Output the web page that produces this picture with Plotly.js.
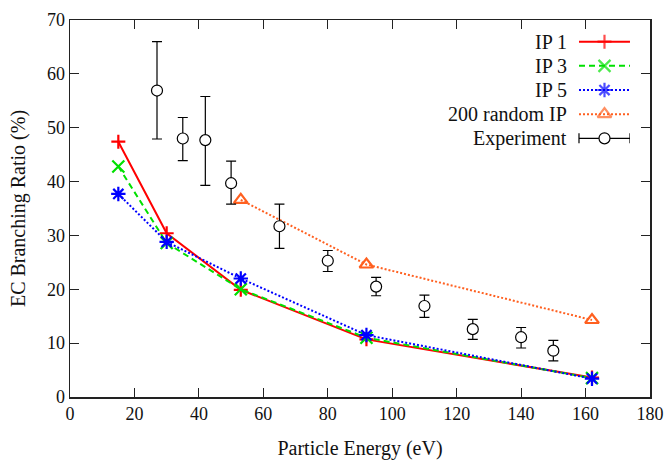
<!DOCTYPE html>
<html>
<head>
<meta charset="utf-8">
<script src="https://cdn.plot.ly/plotly-3.0.1.min.js"></script>
<style>
  html, body { margin: 0; padding: 0; background: #fff; }
  #chart { width: 666px; height: 463px; }
</style>
</head>
<body>
<div id="chart"></div>
<script>
// EC branching ratio versus particle energy
const ipEnergy = [15, 30, 53, 92, 162];
const ip1 = [47.4, 30.4, 19.9, 10.7, 3.6];
const ip3 = [42.8, 28.6, 20.0, 11.0, 3.5];
const ip5 = [37.7, 28.8, 22.0, 11.5, 3.4];

const randEnergy = [53, 92, 162];
const rand200 = [36.6, 24.6, 14.3];

const expEnergy = [27, 35, 42, 50, 65, 80, 95, 110, 125, 140, 150];
const expRatio = [56.9, 48.0, 47.7, 39.7, 31.7, 25.3, 20.5, 16.9, 12.6, 11.1, 8.6];
const expUpper = [66.0, 51.9, 55.8, 43.8, 35.8, 27.2, 22.2, 18.9, 14.4, 12.9, 10.5];
const expLower = [47.9, 43.9, 39.3, 35.8, 27.6, 23.3, 18.8, 14.8, 10.7, 9.1, 6.7];

const seriesNames = ['IP 1', 'IP 3', 'IP 5', '200 random IP', 'Experiment'];

const xTicks = [0, 20, 40, 60, 80, 100, 120, 140, 160, 180];
const yTicks = [0, 10, 20, 30, 40, 50, 60, 70];

const FONT = "'Liberation Serif', 'Times New Roman', serif";

const styles = [
  { color: '#ff0000', dash: 'solid', symbol: 'cross-thin-open', size: 10 },
  { color: '#00e000', dash: '6px,4px', symbol: 'x-thin-open', size: 12 },
  { color: '#0000ff', dash: '2px,2px', symbol: 'asterisk-open', size: 12 },
  { color: '#ff6020', dash: '2px,2px', symbol: 'triangle-up-open', size: 12 }
];

function seriesTrace(x, y, st, xa, ya) {
  return {
    x: x, y: y, xaxis: xa, yaxis: ya,
    type: 'scatter', mode: 'lines+markers', showlegend: false, cliponaxis: false,
    line: { color: st.color, width: 2, dash: st.dash },
    marker: { symbol: st.symbol, size: st.size, color: st.color,
              line: { color: st.color, width: 2.2 } },
    hoverinfo: 'skip'
  };
}

const data = [
  seriesTrace(ipEnergy, ip1, styles[0], 'x', 'y'),
  seriesTrace(ipEnergy, ip3, styles[1], 'x', 'y'),
  seriesTrace(ipEnergy, ip5, styles[2], 'x', 'y'),
  seriesTrace(randEnergy, rand200, styles[3], 'x', 'y'),
  {
    x: expEnergy, y: expRatio, type: 'scatter', mode: 'markers', showlegend: false,
    marker: { symbol: 'circle', size: 11, color: 'rgba(255,255,255,1)',
              line: { color: '#000', width: 1.2 } },
    error_y: {
      type: 'data', symmetric: false,
      array: expUpper.map((u, i) => u - expRatio[i]),
      arrayminus: expLower.map((l, i) => expRatio[i] - l),
      color: '#000', thickness: 1.2, width: 5
    },
    hoverinfo: 'skip'
  }
];

// Key: samples from 0 to 1 on a helper axis pair, labels to their left
const keyRows = seriesNames.map((_, i) => i);
for (let i = 0; i < 4; i++) {
  const t = seriesTrace([0, 0.5, 1], [i, i, i], styles[i], 'x2', 'y2');
  t.marker.size = [0, styles[i].size, 0];
  data.push(t);
}
data.push({
  x: [0.5], y: [4], xaxis: 'x2', yaxis: 'y2',
  type: 'scatter', mode: 'markers', showlegend: false, cliponaxis: false,
  marker: { symbol: 'circle', size: 11, color: 'rgba(255,255,255,1)',
            line: { color: '#000', width: 1.2 } },
  error_x: { type: 'constant', value: 0.5, color: '#000', thickness: 1.2, width: 5 },
  hoverinfo: 'skip'
});

const annotations = seriesNames.map((name, i) => ({
  text: name, xref: 'x2', yref: 'y2', x: -0.2, y: keyRows[i],
  xanchor: 'right', yanchor: 'middle', showarrow: false,
  font: { family: FONT, size: 20, color: '#111' }
}));

const axisCommon = {
  showgrid: false, zeroline: false,
  showline: true, linecolor: '#222', linewidth: 1.5,
  mirror: 'allticks', ticks: 'inside', ticklen: 9, tickwidth: 1.2, tickcolor: '#222',
  tickfont: { family: FONT, size: 18, color: '#111' },
  tickmode: 'array'
};

const layout = {
  width: 666, height: 463,
  margin: { l: 70, r: 16, t: 20, b: 66 },
  paper_bgcolor: '#fff', plot_bgcolor: '#fff',
  font: { family: FONT, color: '#111' },
  xaxis: Object.assign({}, axisCommon, {
    range: [0, 180], tickvals: xTicks, ticktext: xTicks.map(String),
    title: { text: 'Particle Energy (eV)', font: { family: FONT, size: 20, color: '#111' }, standoff: 18 }
  }),
  yaxis: Object.assign({}, axisCommon, {
    range: [0, 70], tickvals: yTicks, ticktext: yTicks.map(String),
    title: { text: 'EC Branching Ratio (%)', font: { family: FONT, size: 20, color: '#111' }, standoff: 16 }
  }),
  xaxis2: { domain: [0.6138, 0.9655], range: [-3, 1], anchor: 'y2', visible: false, fixedrange: true },
  yaxis2: { domain: [0.6541, 0.9745], range: [4.5, -0.5], anchor: 'x2', visible: false, fixedrange: true },
  annotations: annotations,
  showlegend: false
};

Plotly.newPlot('chart', data, layout, { displayModeBar: false, staticPlot: true });
</script>
</body>
</html>
